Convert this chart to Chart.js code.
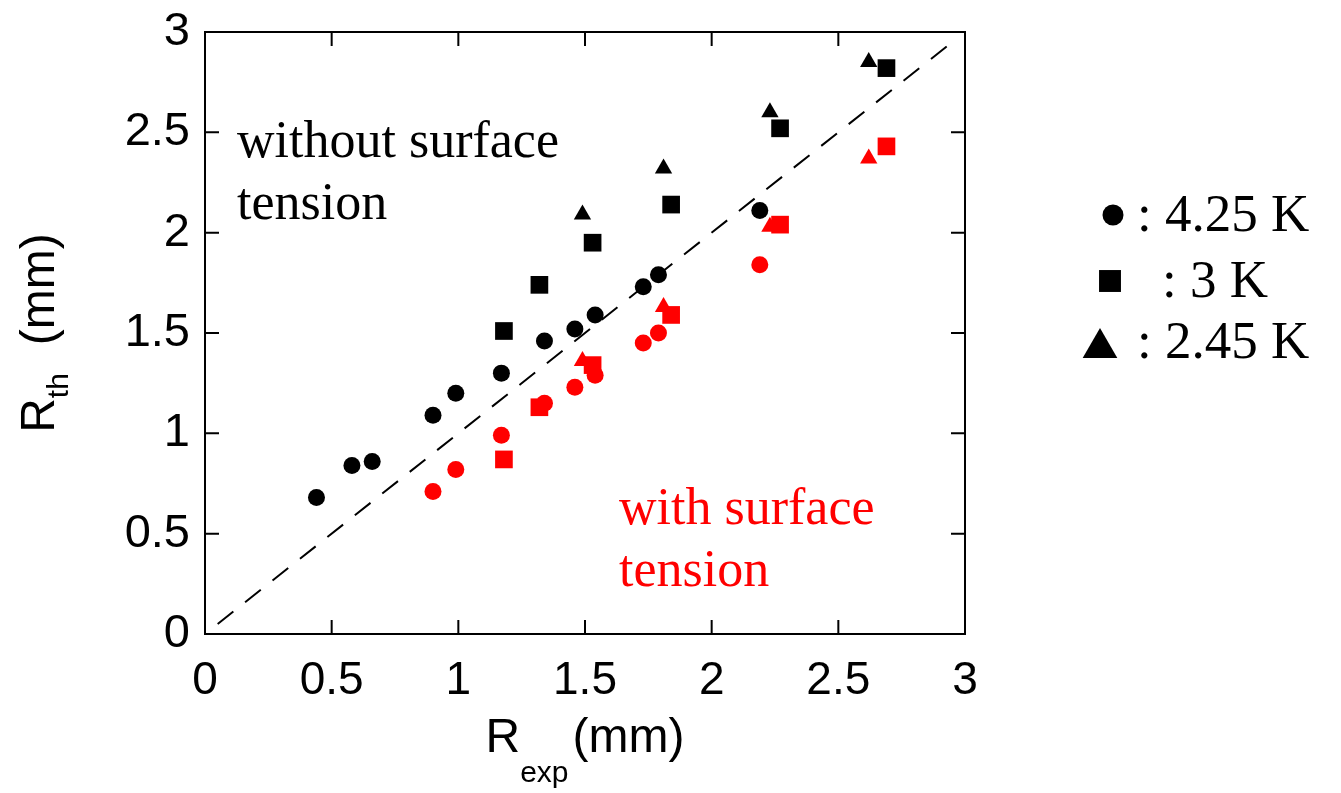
<!DOCTYPE html>
<html>
<head>
<meta charset="utf-8">
<script src="https://cdn.jsdelivr.net/npm/chart.js@4/dist/chart.umd.min.js"></script>
<style>
html, body { margin: 0; padding: 0; background: #fff; }
canvas { display: block; }
</style>
</head>
<body>
<canvas id="radiusChart" width="1341" height="793"></canvas>
<script>
// 4.25 K : circles (black = without surface tension, red = with)
var circleX       = [0.44, 0.58, 0.66, 0.90, 0.99, 1.17, 1.34, 1.46, 1.54, 1.73, 1.79, 2.19];
var circleWithout = [0.68, 0.84, 0.86, 1.09, 1.20, 1.30, 1.46, 1.52, 1.59, 1.73, 1.79, 2.11];
var circleWith    = [null, null, null, 0.71, 0.82, 0.99, 1.15, 1.23, 1.29, 1.45, 1.50, 1.84];

// 3 K : squares
var squareX       = [1.18, 1.32, 1.53, 1.84, 2.27, 2.69];
var squareWithout = [1.51, 1.74, 1.95, 2.14, 2.52, 2.82];
var squareWith    = [0.87, 1.13, 1.34, 1.59, 2.04, 2.43];

// 2.45 K : triangles
var triangleX       = [1.49, 1.81, 2.23, 2.62];
var triangleWithout = [2.09, 2.32, 2.60, 2.85];
var triangleWith    = [1.36, 1.63, 2.03, 2.37];

// y = x reference line
var diagX = [0.05, 2.95];

var axisTicks = [0, 0.5, 1, 1.5, 2, 2.5, 3];
var legendLabels = [': 4.25 K', ': 3 K', ': 2.45 K'];

function toPoints(xs, ys) {
    var pts = [];
    for (var i = 0; i < xs.length; i++) {
        if (ys[i] !== null) pts.push({ x: xs[i], y: ys[i] });
    }
    return pts;
}

function markers(label, xs, ys, style, color, radius) {
    return {
        label: label,
        data: toPoints(xs, ys),
        pointStyle: style,
        pointRadius: radius,
        pointHoverRadius: radius,
        backgroundColor: color,
        borderColor: color,
        borderWidth: 0,
        showLine: false
    };
}

var sansFont = '"Liberation Sans", Arial, sans-serif';
var serifFont = '"Liberation Serif", "Times New Roman", serif';

var decorPlugin = {
    id: 'decor',
    afterDraw: function (chart) {
        var ctx = chart.ctx;
        var area = chart.chartArea;
        var xs = chart.scales.x;
        var ys = chart.scales.y;
        ctx.save();

        // frame with inward ticks on all four sides
        ctx.strokeStyle = '#000';
        ctx.lineWidth = 2;
        ctx.strokeRect(area.left, area.top, area.right - area.left, area.bottom - area.top);
        var tl = 14;
        ctx.beginPath();
        axisTicks.forEach(function (v) {
            var px = xs.getPixelForValue(v);
            ctx.moveTo(px, area.bottom); ctx.lineTo(px, area.bottom - tl);
            ctx.moveTo(px, area.top); ctx.lineTo(px, area.top + tl);
            var py = ys.getPixelForValue(v);
            ctx.moveTo(area.left, py); ctx.lineTo(area.left + tl, py);
            ctx.moveTo(area.right, py); ctx.lineTo(area.right - tl, py);
        });
        ctx.stroke();

        // annotations
        ctx.textAlign = 'left';
        ctx.textBaseline = 'alphabetic';
        ctx.font = '52px ' + serifFont;
        ctx.fillStyle = '#000';
        ctx.fillText('without surface', 237, 157);
        ctx.fillText('tension', 237, 219);
        ctx.fillStyle = '#ff0000';
        ctx.fillText('with surface', 619, 524);
        ctx.fillText('tension', 619, 586);

        // legend
        ctx.fillStyle = '#000';
        var legendRows = [
            { style: 'circle', r: 10.5, mx: 1113, my: 215, tx: 1137, ty: 231 },
            { style: 'rect', r: 15.5, mx: 1110, my: 281, tx: 1162, ty: 297 },
            { style: 'triangle', r: 20, mx: 1100, my: 348, tx: 1137, ty: 358 }
        ];
        ctx.font = '53px ' + serifFont;
        legendRows.forEach(function (row, i) {
            Chart.helpers.drawPoint(ctx, { pointStyle: row.style, radius: row.r, rotation: 0, borderWidth: 0 }, row.mx, row.my);
            ctx.fillText(legendLabels[i], row.tx, row.ty);
        });

        // x axis title: R_exp (mm)
        var big = '48px ' + sansFont;
        var small = '30px ' + sansFont;
        ctx.font = big;
        var wR = ctx.measureText('R').width;
        var wMM = ctx.measureText('(mm)').width;
        ctx.font = small;
        var wExp = ctx.measureText('exp').width;
        var total = wR + wExp + 4 + wMM;
        var sx = (area.left + area.right) / 2 - total / 2;
        ctx.font = big;
        ctx.fillText('R', sx, 752);
        ctx.font = small;
        ctx.fillText('exp', sx + wR, 782);
        ctx.font = big;
        ctx.fillText('(mm)', sx + wR + wExp + 4, 752);

        // y axis title: R_th (mm), rotated
        ctx.translate(54, (area.top + area.bottom) / 2);
        ctx.rotate(-Math.PI / 2);
        ctx.font = small;
        var wTh = ctx.measureText('th').width;
        var totalY = wR + wTh + 28 + wMM;
        var sy = -totalY / 2;
        ctx.font = big;
        ctx.fillText('R', sy, 0);
        ctx.font = small;
        ctx.fillText('th', sy + wR, 14);
        ctx.font = big;
        ctx.fillText('(mm)', sy + wR + wTh + 28, 0);

        ctx.restore();
    }
};

function plainLabel(value) {
    return String(value);
}

var ctx = document.getElementById('radiusChart').getContext('2d');
var chart = new Chart(ctx, {
    type: 'scatter',
    data: {
        datasets: [
            {
                label: 'y = x',
                data: toPoints(diagX, diagX),
                showLine: true,
                borderColor: '#000',
                borderWidth: 2,
                borderDash: [20, 15],
                pointRadius: 0,
                fill: false
            },
            markers('4.25 K without', circleX, circleWithout, 'circle', '#000', 8.5),
            markers('3 K without', squareX, squareWithout, 'rect', '#000', 12.5),
            markers('2.45 K without', triangleX, triangleWithout, 'triangle', '#000', 10),
            markers('4.25 K with', circleX, circleWith, 'circle', '#ff0000', 8.5),
            markers('3 K with', squareX, squareWith, 'rect', '#ff0000', 12.5),
            markers('2.45 K with', triangleX, triangleWith, 'triangle', '#ff0000', 10)
        ]
    },
    options: {
        responsive: false,
        animation: false,
        layout: { padding: { left: 0, right: 376, top: 32, bottom: 0 } },
        plugins: {
            legend: { display: false },
            tooltip: { enabled: false },
            title: { display: false }
        },
        scales: {
            x: {
                type: 'linear',
                min: 0,
                max: 3,
                afterFit: function (scale) {
                    scale.height = 159;
                    scale.paddingLeft = 0;
                    scale.paddingRight = 0;
                },
                afterBuildTicks: function (scale) {
                    scale.ticks = axisTicks.map(function (v) { return { value: v }; });
                },
                grid: { display: false, drawTicks: false },
                border: { display: false },
                ticks: {
                    color: '#000',
                    padding: 20,
                    maxRotation: 0,
                    callback: plainLabel,
                    font: { family: sansFont, size: 46 }
                }
            },
            y: {
                type: 'linear',
                min: 0,
                max: 3,
                afterFit: function (scale) {
                    scale.width = 205;
                    scale.paddingTop = 0;
                    scale.paddingBottom = 0;
                },
                afterBuildTicks: function (scale) {
                    scale.ticks = axisTicks.map(function (v) { return { value: v }; });
                },
                grid: { display: false, drawTicks: false },
                border: { display: false },
                ticks: {
                    color: '#000',
                    padding: 15,
                    callback: plainLabel,
                    font: { family: sansFont, size: 47 }
                }
            }
        }
    },
    plugins: [decorPlugin]
});
</script>
</body>
</html>
